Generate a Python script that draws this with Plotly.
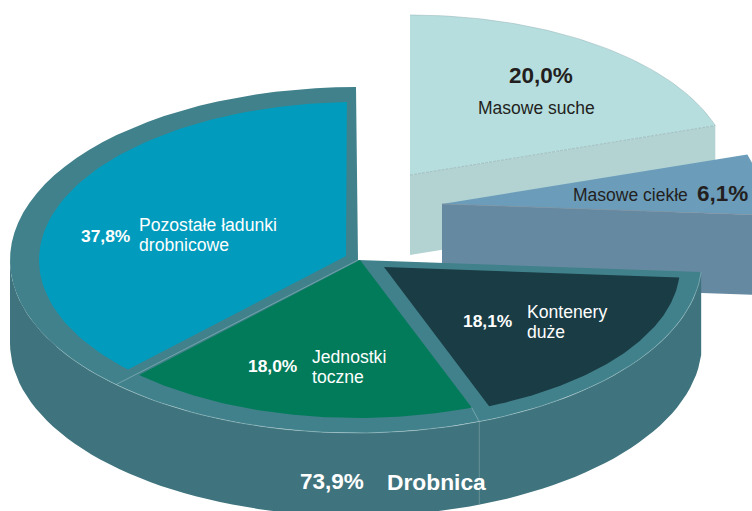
import numpy as np
import plotly.graph_objects as go

# shares, clockwise from 12 o'clock
categories = ["Masowe suche", "Masowe ciekłe", "Kontenery duże", "Jednostki toczne", "Pozostałe ładunki drobnicowe"]
shares = [20.0, 6.1, 18.1, 18.0, 37.8]
drobnica_share = 73.9
drobnica_label = "Drobnica"

W, H = 752, 511
edges = 90 - np.concatenate([[0], np.cumsum(shares)]) * 3.6
start = dict(zip(categories, edges[:-1]))
stop = dict(zip(categories, edges[1:]))


def arc(cx, cy, rx, ry, a0, a1, n=80):
    t = np.radians(np.linspace(a0, a1, n))
    return cx + rx * np.cos(t), cy - ry * np.sin(t)


def poly(fig, xs, ys, fill):
    fig.add_trace(go.Scatter(x=xs, y=ys, mode="lines", fill="toself", fillcolor=fill,
                             line=dict(width=0), hoverinfo="skip"))


def line(fig, xs, ys, color="#a5c6ca", width=0.7, dash="solid"):
    fig.add_trace(go.Scatter(x=xs, y=ys, mode="lines", hoverinfo="skip",
                             line=dict(color=color, width=width, dash=dash)))


def wedge(fig, cx, cy, rx, ry, a0, a1, fill, apex=None):
    ax, ay = apex if apex else (cx, cy)
    x, y = arc(cx, cy, rx, ry, a0, a1)
    poly(fig, np.r_[ax, x, ax], np.r_[ay, y, ay], fill)


def pct(v):
    return f"{v:.1f}%".replace(".", ",")


fig = go.Figure()

# exploded part: bulk cargo
ex_rx, ex_ry, ex_depth = 321, 160, 80
sx, sy = 410, 175
a = stop["Masowe suche"]
x, y = arc(sx, sy, ex_rx, ex_ry, a, a, 1)
poly(fig, [sx, x[0], x[0], sx, sx], [sy, y[0], y[0] + ex_depth, sy + ex_depth, sy], "#b3d3d3")
wedge(fig, sx, sy, ex_rx, ex_ry, start["Masowe suche"], a, "#b6dedf")
ox, oy = arc(sx, sy, ex_rx, ex_ry, start["Masowe suche"], a)
line(fig, ox, oy, "#9dbcbe", 0.6)
line(fig, [sx, x[0]], [sy, y[0]], "#8fa9aa", 0.6, "3px,1px")

lx, ly = 442, 204
a0, a1 = start["Masowe ciekłe"], stop["Masowe ciekłe"]
x, y = arc(lx, ly, ex_rx, ex_ry, a1, a1, 1)
poly(fig, [lx, x[0], x[0], lx, lx], [ly, y[0], y[0] + ex_depth, ly + ex_depth, ly], "#6689a2")
wedge(fig, lx, ly, ex_rx, ex_ry, a0, a1, "#6b9dbb")
line(fig, [lx, x[0]], [ly, y[0]], "#7d8f9c", 0.7)

# main disc: general cargo
cx, cy, rx, ry, depth = 356, 260, 346, 173, 83
apex_x, in_rx, in_ry = 358, 319, 158
disc_start = start["Kontenery duże"]
disc_end = stop["Pozostałe ładunki drobnicowe"]

tx, ty = arc(cx, cy, rx, ry, -180, disc_start)
poly(fig, np.r_[tx, tx[::-1]], np.r_[ty, ty[::-1] + depth], "#3f747e")
wedge(fig, cx, cy, rx, ry, disc_start, disc_end, "#41818b", apex=(apex_x, cy))

a_k = stop["Kontenery duże"]
a_j = stop["Jednostki toczne"]
# the dark slice sits a little lower and further right inside the rim
wedge(fig, 361, 267, in_rx, 152, disc_start, a_k + 2.8, "#1a3c44", apex=(384, 267))
wedge(fig, apex_x, cy, in_rx, in_ry, a_k, a_j + 0.6, "#027b5a", apex=(360, 260))
wedge(fig, apex_x, cy, in_rx, in_ry, a_j - 2.2, disc_end + 2, "#019cbd", apex=(346, 256))

# thin highlights along the rim and the slice seams
ox, oy = arc(cx, cy, rx, ry, -150, disc_start)
line(fig, ox, oy, width=0.5)
px, py = arc(cx, cy, rx, ry, a_j, a_j, 1)
line(fig, [px[0], apex_x], [py[0], cy], width=0.5)
qx, qy = arc(cx, cy, rx, ry, a_k, a_k, 1)
gx, gy = arc(apex_x, cy, in_rx, in_ry, a_k, a_k, 1)
line(fig, [qx[0], gx[0]], [qy[0], gy[0]], width=0.5)
line(fig, [qx[0], qx[0]], [qy[0], qy[0] + depth], "#7fa3a9", 0.6)

WHITE, DARK = "#ffffff", "#231f20"
texts = [
    (pct(shares[4]), 81, 236, 17.4, True, WHITE),
    ("Pozostałe ładunki", 139, 225, 17.6, False, WHITE),
    ("drobnicowe", 139, 245, 17.6, False, WHITE),
    (pct(shares[3]), 248, 366, 17.4, True, WHITE),
    ("Jednostki", 312, 357, 17.6, False, WHITE),
    ("toczne", 312, 377, 17.6, False, WHITE),
    (pct(shares[2]), 463, 321, 17.4, True, WHITE),
    ("Kontenery", 527, 312, 17.6, False, WHITE),
    ("duże", 527, 332, 17.6, False, WHITE),
    (pct(shares[0]), 509, 75, 22.5, True, DARK),
    (categories[0], 478, 108, 17.5, False, DARK),
    (categories[1], 573, 195, 17.5, False, DARK),
    (pct(shares[1]), 697, 193, 22.5, True, DARK),
    (pct(drobnica_share), 300, 481, 22.5, True, WHITE),
    (drobnica_label, 387, 482, 22.8, True, WHITE),
]
for txt, x0, y0, size, bold, color in texts:
    fig.add_annotation(x=x0, y=y0, text=f"<b>{txt}</b>" if bold else txt, showarrow=False,
                       xanchor="left", yanchor="middle", xshift=-2,
                       font=dict(family="Liberation Sans", size=size, color=color))

fig.update_layout(
    width=W, height=H, margin=dict(l=0, r=0, t=0, b=0),
    paper_bgcolor="white", plot_bgcolor="white", showlegend=False,
    xaxis=dict(range=[0, W], visible=False),
    yaxis=dict(range=[H, 0], visible=False),
)
fig.write_html("out.html", config=dict(displayModeBar=False),
               post_script="document.body.style.margin='0';")
